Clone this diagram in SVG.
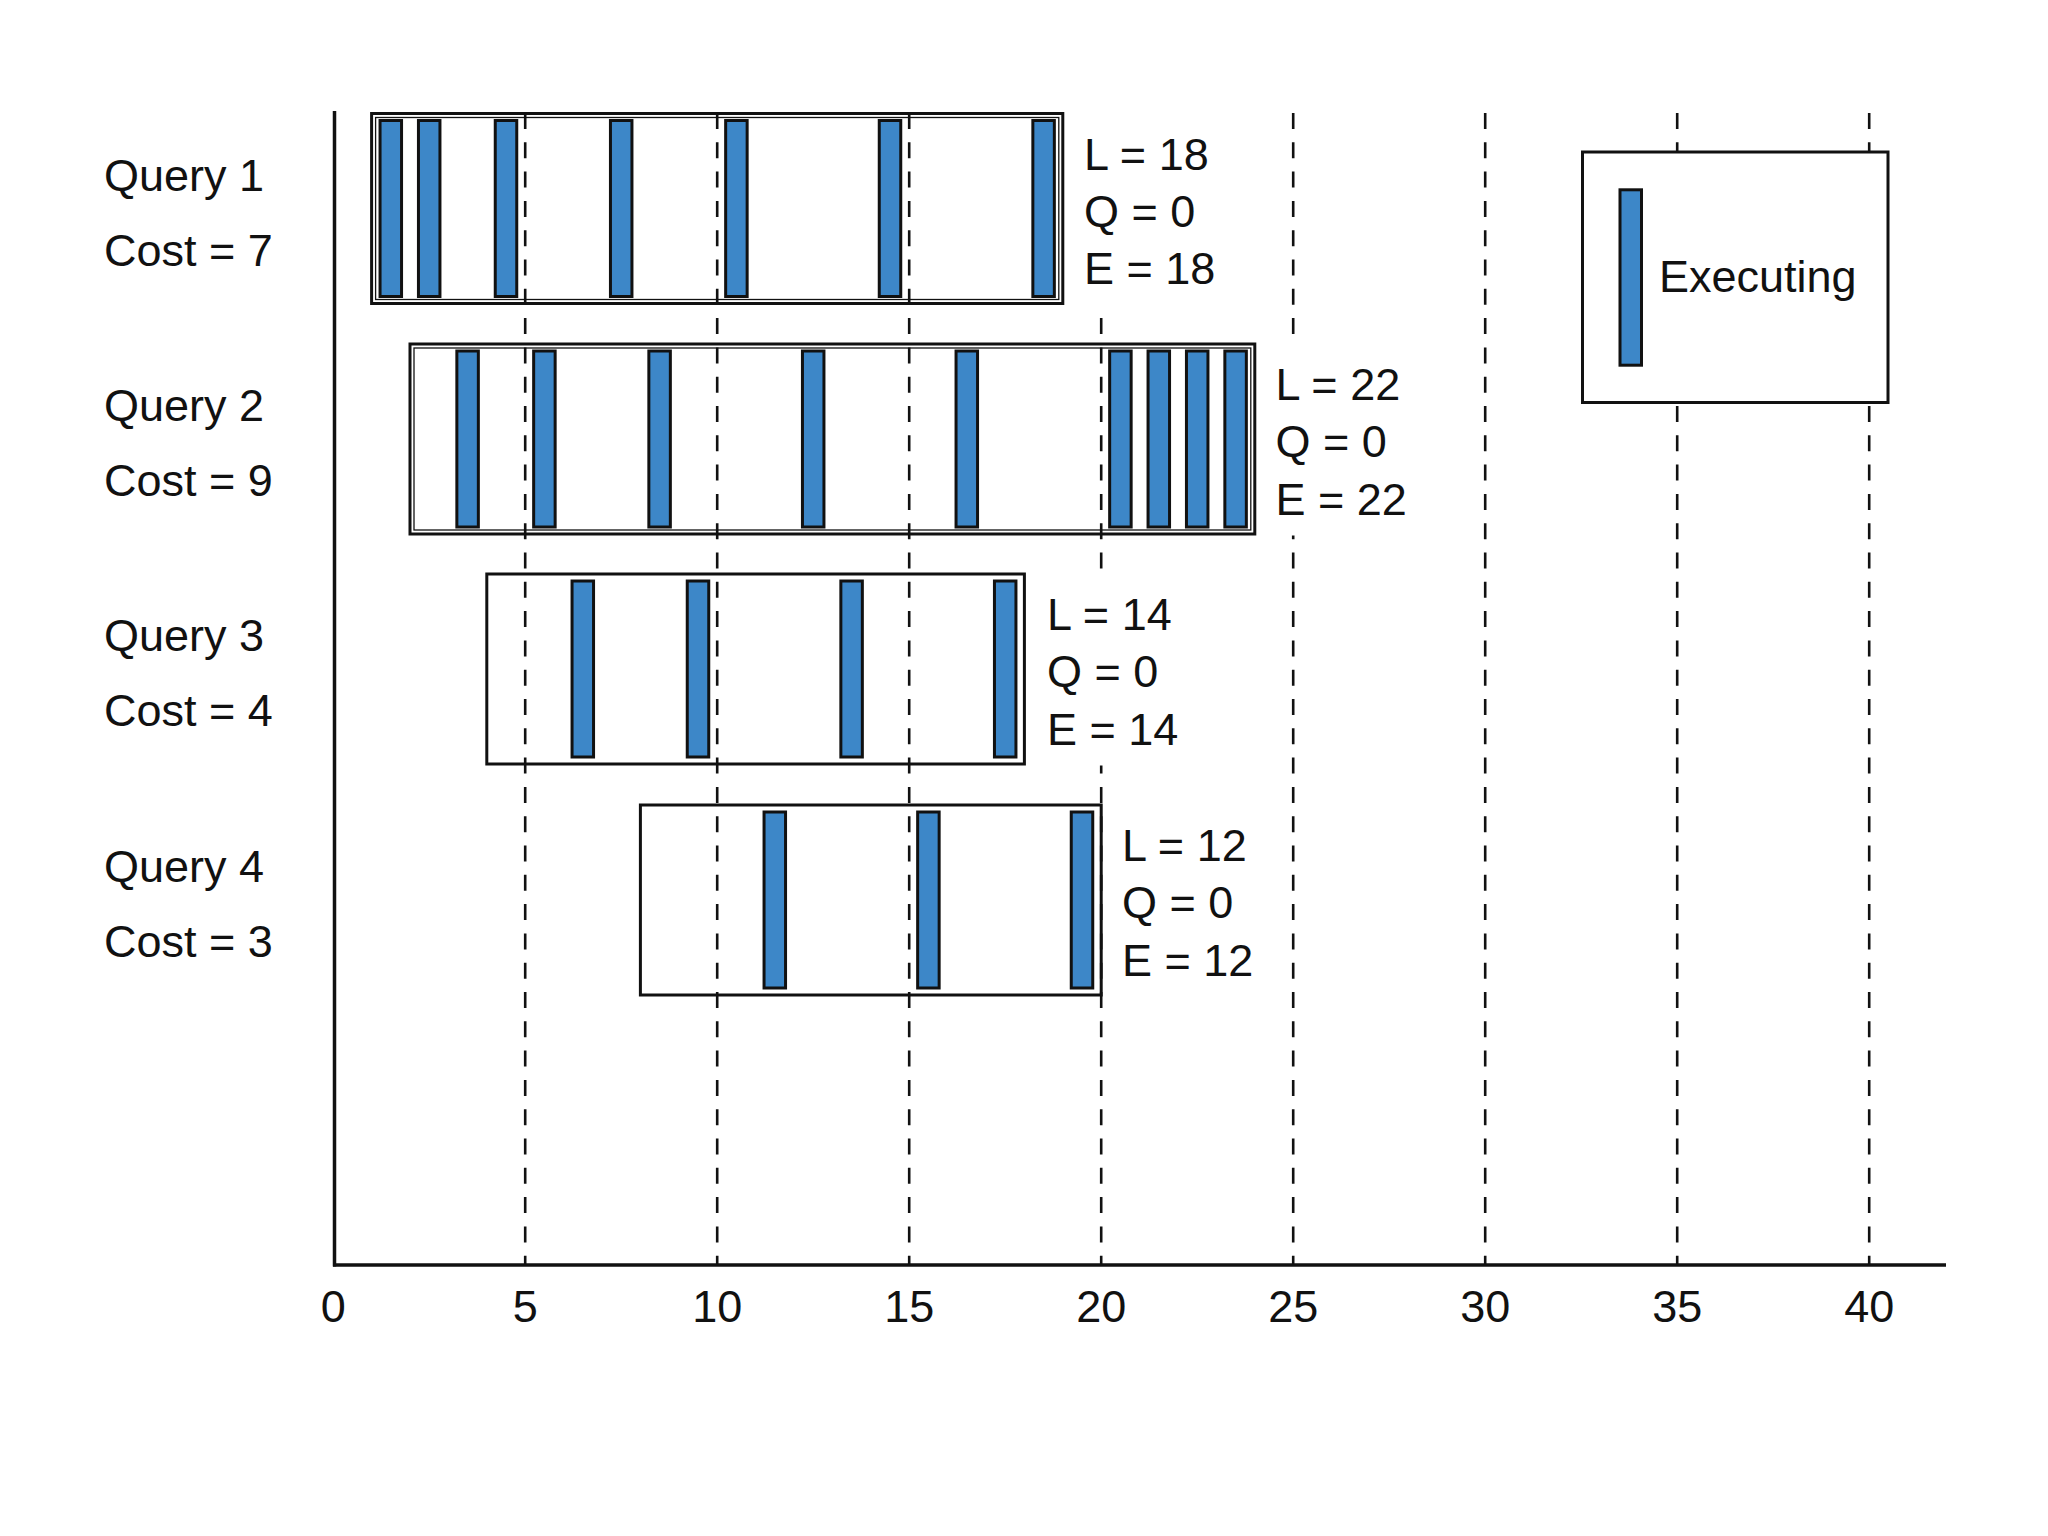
<svg xmlns="http://www.w3.org/2000/svg" width="2048" height="1536" viewBox="0 0 2048 1536">
<style>
.t{font-family:"Liberation Sans",Arial,sans-serif;font-size:45px;fill:#111}
.tick{font-family:"Liberation Sans",Arial,sans-serif;font-size:45px;fill:#111;text-anchor:middle}
.grid{stroke:#111;stroke-width:2.6;stroke-dasharray:16 13.3;fill:none}
.axis{stroke:#111;stroke-width:3.5;fill:none}
.box{fill:none;stroke:#111;stroke-width:3}
.inner{fill:none;stroke:#111;stroke-width:1.3}
.bar{fill:#3D87C8;stroke:#111;stroke-width:3}
.bg{fill:#fff;stroke:none}
</style>
<rect x="0" y="0" width="2048" height="1536" fill="#fff"/>
<g id="connectors">
<line class="grid" x1="525.2" y1="113" x2="525.2" y2="1264"/>
<line class="grid" x1="717.2" y1="113" x2="717.2" y2="1264"/>
<line class="grid" x1="909.2" y1="113" x2="909.2" y2="1264"/>
<line class="grid" x1="1101.2" y1="113" x2="1101.2" y2="1264"/>
<line class="grid" x1="1293.2" y1="113" x2="1293.2" y2="1264"/>
<line class="grid" x1="1485.2" y1="113" x2="1485.2" y2="1264"/>
<line class="grid" x1="1677.2" y1="113" x2="1677.2" y2="1264"/>
<line class="grid" x1="1869.2" y1="113" x2="1869.2" y2="1264"/>
<line class="axis" x1="334.5" y1="111" x2="334.5" y2="1266.5"/>
<line class="axis" x1="333" y1="1265" x2="1946" y2="1265"/>
</g>
<g id="ticks">
<text class="tick" x="333.2" y="1322">0</text>
<text class="tick" x="525.2" y="1322">5</text>
<text class="tick" x="717.2" y="1322">10</text>
<text class="tick" x="909.2" y="1322">15</text>
<text class="tick" x="1101.2" y="1322">20</text>
<text class="tick" x="1293.2" y="1322">25</text>
<text class="tick" x="1485.2" y="1322">30</text>
<text class="tick" x="1677.2" y="1322">35</text>
<text class="tick" x="1869.2" y="1322">40</text>
</g>
<g id="query1">
<text class="t" x="104" y="190.5">Query 1</text>
<text class="t" x="104" y="265.5">Cost = 7</text>
<rect class="box" x="371.6" y="113.5" width="691.2" height="190"/>
<rect class="inner" x="375.6" y="117.5" width="683.2" height="182"/>
<rect class="bar" x="380.05" y="120.5" width="21.5" height="176"/>
<rect class="bar" x="418.45" y="120.5" width="21.5" height="176"/>
<rect class="bar" x="495.25" y="120.5" width="21.5" height="176"/>
<rect class="bar" x="610.45" y="120.5" width="21.5" height="176"/>
<rect class="bar" x="725.65" y="120.5" width="21.5" height="176"/>
<rect class="bar" x="879.25" y="120.5" width="21.5" height="176"/>
<rect class="bar" x="1032.85" y="120.5" width="21.5" height="176"/>
<rect class="bg" x="1066" y="112" width="170" height="193"/>
<text class="t" x="1084" y="169.5">L = 18</text>
<text class="t" x="1084" y="226.5">Q = 0</text>
<text class="t" x="1084" y="284">E = 18</text>
</g>
<g id="query2">
<text class="t" x="104" y="421">Query 2</text>
<text class="t" x="104" y="496">Cost = 9</text>
<rect class="box" x="410" y="344" width="844.8" height="190"/>
<rect class="inner" x="414" y="348" width="836.8" height="182"/>
<rect class="bar" x="456.85" y="351" width="21.5" height="176"/>
<rect class="bar" x="533.65" y="351" width="21.5" height="176"/>
<rect class="bar" x="648.85" y="351" width="21.5" height="176"/>
<rect class="bar" x="802.45" y="351" width="21.5" height="176"/>
<rect class="bar" x="956.05" y="351" width="21.5" height="176"/>
<rect class="bar" x="1109.65" y="351" width="21.5" height="176"/>
<rect class="bar" x="1148.05" y="351" width="21.5" height="176"/>
<rect class="bar" x="1186.45" y="351" width="21.5" height="176"/>
<rect class="bar" x="1224.85" y="351" width="21.5" height="176"/>
<rect class="bg" x="1258" y="342.5" width="170" height="193"/>
<text class="t" x="1275.5" y="400">L = 22</text>
<text class="t" x="1275.5" y="457">Q = 0</text>
<text class="t" x="1275.5" y="514.5">E = 22</text>
</g>
<g id="query3">
<text class="t" x="104" y="651">Query 3</text>
<text class="t" x="104" y="726">Cost = 4</text>
<rect class="box" x="486.8" y="574" width="537.6" height="190"/>
<rect class="bar" x="572.05" y="581" width="21.5" height="176"/>
<rect class="bar" x="687.25" y="581" width="21.5" height="176"/>
<rect class="bar" x="840.85" y="581" width="21.5" height="176"/>
<rect class="bar" x="994.45" y="581" width="21.5" height="176"/>
<rect class="bg" x="1027.5" y="572.5" width="170" height="193"/>
<text class="t" x="1047" y="630">L = 14</text>
<text class="t" x="1047" y="687">Q = 0</text>
<text class="t" x="1047" y="744.5">E = 14</text>
</g>
<g id="query4">
<text class="t" x="104" y="881.5">Query 4</text>
<text class="t" x="104" y="957">Cost = 3</text>
<rect class="box" x="640.4" y="805" width="460.8" height="190"/>
<rect class="bar" x="764.05" y="812" width="21.5" height="176"/>
<rect class="bar" x="917.65" y="812" width="21.5" height="176"/>
<rect class="bar" x="1071.25" y="812" width="21.5" height="176"/>
<rect class="bg" x="1104" y="803.5" width="170" height="193"/>
<text class="t" x="1122" y="861">L = 12</text>
<text class="t" x="1122" y="918">Q = 0</text>
<text class="t" x="1122" y="975.5">E = 12</text>
</g>
<g id="legend">
<rect x="1582.5" y="152" width="305.5" height="250.5" fill="#fff" stroke="#111" stroke-width="3"/>
<rect class="bar" x="1620" y="189.8" width="21.5" height="175.4"/>
<text class="t" x="1659" y="291.7">Executing</text>
</g>
</svg>
